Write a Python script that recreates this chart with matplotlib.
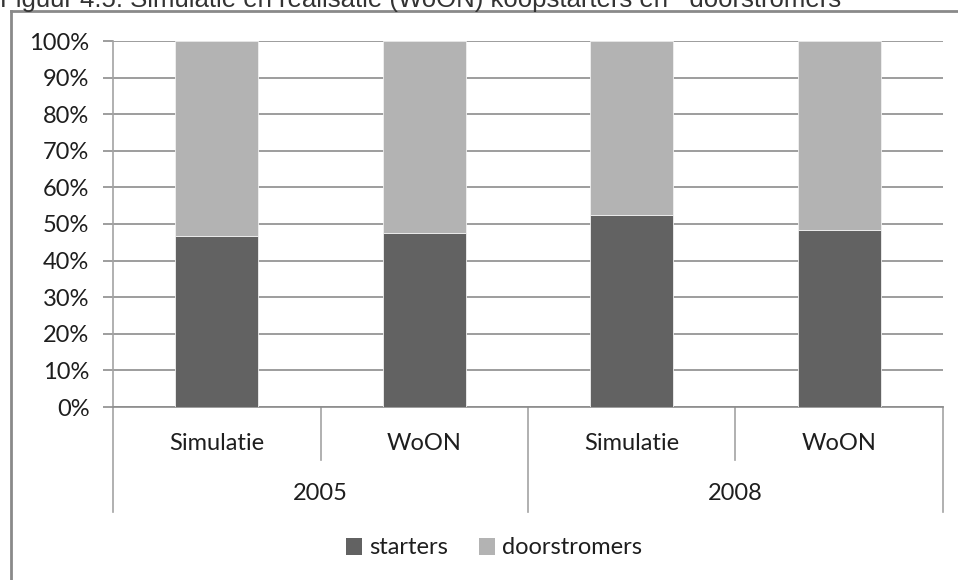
import matplotlib
matplotlib.use("Agg")
import matplotlib.pyplot as plt
from matplotlib.lines import Line2D
from matplotlib.patches import Patch
import matplotlib.transforms as mtransforms

# Data
years = ["2005", "2008"]
sources = ["Simulatie", "WoON", "Simulatie", "WoON"]
starters = [46.8, 47.5, 52.4, 48.4]
doorstromers = [100 - v for v in starters]
yticks = [0, 10, 20, 30, 40, 50, 60, 70, 80, 90, 100]
ytick_labels = [f"{v}%" for v in yticks]
title = "Figuur 4.5: Simulatie en realisatie (WoON) koopstarters en   doorstromers"

c_start = "#626262"
c_door = "#b3b3b3"
grid_c = "#8c8c8c"
sep_c = "#a3a3a3"
text_c = "#1e1e1e"
font = "Lato"
fs = 17

W, H = 958, 580
fig = plt.figure(figsize=(W / 100, H / 100), dpi=100)
fig.patch.set_facecolor("white")

# axes placed in pixel units
left, right, top, bottom = 113, 943, 41, 407
ax = fig.add_axes([left / W, 1 - bottom / H, (right - left) / W, (bottom - top) / H])

x = list(range(len(sources)))
ax.bar(x, starters, width=0.4, color=c_start, edgecolor="#f0f0f0", linewidth=0.6, zorder=3)
ax.bar(x, doorstromers, bottom=starters, width=0.4, color=c_door, edgecolor="#f0f0f0",
       linewidth=0.6, zorder=3)

ax.set_xlim(-0.5, len(sources) - 0.5)
ax.set_ylim(0, 100)
ax.set_yticks(yticks)
ax.set_yticklabels(ytick_labels, fontsize=fs, family=font, color=text_c)
ax.yaxis.grid(True, color=grid_c, linewidth=1.2, zorder=0)
ax.set_axisbelow(True)
ax.tick_params(axis="y", length=7, width=1.2, color=grid_c, pad=10)
ax.set_xticks([])
for s in ["top", "right"]:
    ax.spines[s].set_visible(False)
ax.spines["left"].set_color(sep_c)
ax.spines["left"].set_linewidth(1.2)
ax.spines["bottom"].set_color(grid_c)
ax.spines["bottom"].set_linewidth(1.2)

# Multi-level category axis
trans = mtransforms.blended_transform_factory(ax.transData, ax.transAxes)
span = bottom - top
inner_depth = 53 / span
outer_depth = 105 / span
for xs in [-0.5, 1.5, 3.5]:
    ax.add_line(Line2D([xs, xs], [0, -outer_depth], transform=trans, color=sep_c,
                       linewidth=1.2, clip_on=False))
for xs in [0.5, 2.5]:
    ax.add_line(Line2D([xs, xs], [0, -inner_depth], transform=trans, color=sep_c,
                       linewidth=1.2, clip_on=False))
for i, lab in enumerate(sources):
    ax.text(i, -36 / span, lab, transform=trans, ha="center", va="center",
            fontsize=fs, family=font, color=text_c)
for j, yr in enumerate(years):
    ax.text(2 * j + 0.5, -86 / span, yr, transform=trans, ha="center", va="center",
            fontsize=fs, family=font, color=text_c)

# Legend
handles = [Patch(facecolor=c_start, edgecolor="none", label="starters"),
           Patch(facecolor=c_door, edgecolor="none", label="doorstromers")]
fig.legend(handles=handles, loc="center", bbox_to_anchor=(494 / W, 1 - 548 / H), ncol=2,
           frameon=False, prop={"family": font, "size": fs},
           labelcolor=text_c, handlelength=0.7, handleheight=0.7, handletextpad=0.3,
           columnspacing=1.3)

# Chart frame (top and left edges)
fig.add_artist(Line2D([11 / W, 11 / W], [0, 1 - 11 / H], transform=fig.transFigure,
                      color="#8a8a8a", linewidth=2))
fig.add_artist(Line2D([11 / W, 1], [1 - 11 / H, 1 - 11 / H], transform=fig.transFigure,
                      color="#8a8a8a", linewidth=2))

# Caption above the frame
fig.text(0, 1 - 6.5 / H, title, ha="left", va="baseline", fontsize=18.5,
         family="Liberation Sans", color="#333333")

fig.savefig("out.png", dpi=100)
